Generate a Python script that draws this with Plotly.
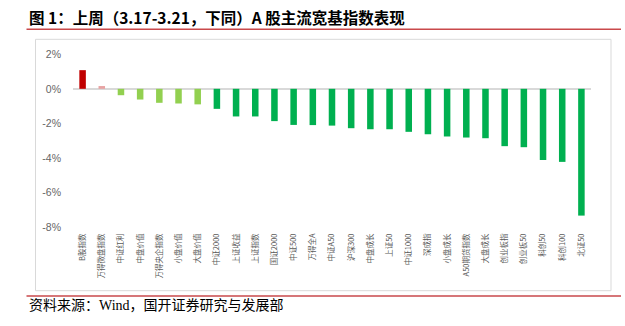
import plotly.graph_objects as go

# Weekly return of each broad-based A-share index (%)
categories = [
    "B股指数", "万得微盘指数", "中证红利", "中盘价值", "万得央企指数", "小盘价值",
    "大盘价值", "中证2000", "上证收益", "上证指数", "国证2000", "中证500",
    "万得全A", "中证A50", "沪深300", "中盘成长", "上证50", "中证1000",
    "深成指", "小盘成长", "A50期货指数", "大盘成长", "创业板指", "创业板50",
    "科创50", "科创100", "北证50",
]
returns_pct = [
    1.08, 0.16, -0.37, -0.62, -0.81, -0.85,
    -0.90, -1.16, -1.60, -1.60, -1.87, -2.09,
    -2.10, -2.13, -2.28, -2.34, -2.34, -2.49,
    -2.63, -2.76, -2.82, -2.86, -3.32, -3.38,
    -4.12, -4.23, -7.34,
]
y_tick_values = [-8, -6, -4, -2, 0, 2]
y_tick_labels = [f"{v}%" for v in y_tick_values]

TITLE = "图 1：上周（3.17-3.21，下同）A 股主流宽基指数表现"
SOURCE = "资料来源：Wind，国开证券研究与发展部"


def bar_color(v):
    if v >= 0.5:
        return "#C00000"
    if v >= 0:
        return "#E8A3A3"
    if v > -1:
        return "#92D050"
    return "#00B050"


W, H = 625, 326
ML, MR, MT, MB = 73, 34, 37, 99
PW, PH = W - ML - MR, H - MT - MB


def px(x):
    return (x - ML) / PW


def py(y):
    return (H - MB - y) / PH


fig = go.Figure(
    go.Bar(
        x=categories,
        y=returns_pct,
        marker=dict(color=[bar_color(v) for v in returns_pct], line=dict(width=0)),
        width=0.34,
        hoverinfo="x+y",
    )
)

cjk = "Noto Sans CJK SC, Liberation Sans, sans-serif"

fig.update_layout(
    width=W,
    height=H,
    margin=dict(l=ML, r=MR, t=MT, b=MB, pad=0),
    paper_bgcolor="white",
    plot_bgcolor="white",
    showlegend=False,
    font=dict(family=cjk, color="#595959"),
    xaxis=dict(
        type="category",
        tickangle=-90,
        tickfont=dict(size=7.5, color="#595959"),
        showgrid=False,
        showline=False,
        ticks="",
        ticklabelstandoff=4,
    ),
    yaxis=dict(
        range=[-8, 3],
        tickvals=y_tick_values,
        ticktext=y_tick_labels,
        tickfont=dict(size=10.5, color="#666666", family="Liberation Sans, sans-serif"),
        showgrid=False,
        showline=False,
        zeroline=True,
        zerolinecolor="#D9D9D9",
        zerolinewidth=2,
        ticks="",
        ticklabelstandoff=11,
    ),
    shapes=[
        # chart frame
        dict(type="rect", xref="paper", yref="paper",
             x0=px(35.5), x1=px(611), y0=py(39.3), y1=py(290.7),
             line=dict(color="#D9D9D9", width=1), layer="below"),
        # red rule under the title
        dict(type="line", xref="paper", yref="paper",
             x0=px(26.5), x1=px(621), y0=py(29.3), y1=py(29.3),
             line=dict(color="#C9494B", width=1.5)),
        # red rule above the source note
        dict(type="line", xref="paper", yref="paper",
             x0=px(26.5), x1=px(621), y0=py(296), y1=py(296),
             line=dict(color="#C9494B", width=1.5)),
    ],
    annotations=[
        dict(text=f"<b>{TITLE}</b>", xref="paper", yref="paper",
             x=px(27), y=py(17), xanchor="left", yanchor="middle",
             showarrow=False, font=dict(size=15.5, color="#000000", family=cjk)),
        dict(text=SOURCE, xref="paper", yref="paper",
             x=px(26.5), y=py(305), xanchor="left", yanchor="middle",
             showarrow=False,
             font=dict(size=14, color="#000000",
                       family="Liberation Serif, Noto Sans CJK SC, serif")),
    ],
)

fig.write_html("out.html")
